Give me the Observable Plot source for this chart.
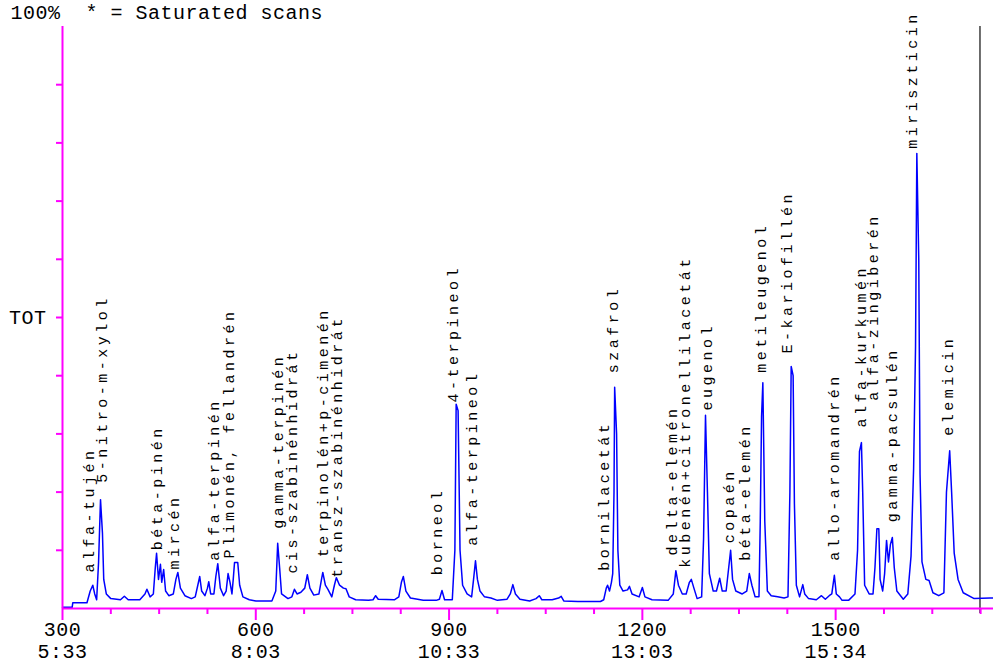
<!DOCTYPE html>
<html><head><meta charset="utf-8">
<script src="https://cdn.jsdelivr.net/npm/d3@7"></script>
<script src="https://cdn.jsdelivr.net/npm/@observablehq/plot@0.6"></script>
<style>body{margin:0;background:#fff}</style>
</head><body><div id="chart"></div>
<script>
const scans = [300,315,316,338,343,347,350,353,356,359,362,364,368,375,390,396,402,420,428,431,436,441,444,446,449,452,454,457,460,465,472,476,479,483,490,500,506,510,513,516,521,525,527,530,535,538,541,545,550,554,557,560,563,565,567,572,575,580,590,600,625,631,634,637,640,650,656,660,664,670,676,680,684,690,698,702,704,708,712,718,722,725,730,736,740,745,755,775,782,786,790,815,822,826,829,833,840,860,880,885,889,893,905,909,911,914,917,921,928,935,938,941,944,948,955,965,975,990,995,999,1003,1010,1025,1035,1040,1044,1060,1070,1074,1078,1100,1135,1140,1144,1146,1149,1152,1154,1156,1157,1160,1162,1165,1170,1177,1180,1184,1195,1200,1204,1215,1240,1248,1252,1256,1262,1268,1273,1276,1280,1285,1292,1295,1298,1301,1304,1310,1315,1320,1324,1330,1334,1337,1340,1345,1355,1362,1366,1370,1375,1381,1383,1385,1387,1390,1394,1400,1410,1420,1426,1429,1431,1434,1436,1439,1444,1449,1452,1458,1470,1478,1484,1490,1494,1498,1501,1506,1510,1520,1530,1534,1537,1540,1542,1545,1552,1558,1561,1564,1567,1569,1573,1576,1579,1582,1585,1588,1591,1595,1605,1612,1617,1621,1624,1626,1629,1631,1634,1640,1645,1651,1660,1668,1672,1677,1680,1684,1690,1698,1715,1740,1745];
const tic = [0.2,0.2,1.0,1.0,3.0,4.0,2.5,1.5,8,18.7,13,5,2.5,1.7,1.5,2.1,1.5,1.5,2.5,3.3,2.0,2.5,7,9.5,5,7.6,4.5,6.7,3,2.2,2.5,5.0,6.2,3.5,2.2,1.7,2.0,4.0,5.5,3,2.2,3.5,4.6,2.5,2.5,5.5,7.7,3.5,2.2,3,6.0,4.5,2.5,5,7.9,7.9,4,2,1.5,1.3,1.3,3,11.2,7,2.5,1.7,2.0,3.3,2.5,2.8,3.5,5.8,3.5,2.3,2.5,5,6.2,4,3.3,2.0,4,5.3,4,3.5,3.4,2,1.5,1.4,1.5,2.2,1.6,1.5,2,4.5,5.5,3,1.8,1.4,1.4,1.6,3.1,1.5,1.5,10,35.1,34,10,4,2.5,2,5,8.2,5,3,2,1.8,1.4,1.6,2.5,4.1,2.5,1.6,1.3,1.7,2.2,1.5,1.5,1.8,2.1,1.3,1.2,1.2,1.5,3.5,4.0,3,4.5,6.0,20,38.0,30,10,4,3,3.2,3.8,2.5,2,3.6,2,1.5,1.4,2.5,6.5,4,2.5,2.5,4.5,5.0,3.5,1.7,2,12,33.2,20,6,3,3,5.2,3,3,7,10.0,5,3,2.5,3,6.0,4,2,2,15,33,38.8,15,3,2.2,2,1.8,2,20,41.6,40,18,4,2,4.1,2.5,1.7,1.5,2.2,1.6,2.2,2.5,5.7,2.5,2,1.4,1.4,2.5,10,27,28.5,20,4,2.5,2.5,7,13.7,13.7,5,3,6,11.7,8,11,12.2,7,3,1.6,2.5,9,24,45,78.2,60,23,8,5,4.8,2.7,2.2,2.7,20,27.1,20,9.5,5,2.7,1.7,1.8,1.8];

const peakNames = ["alfa-tujén","5-nitro-m-xylol","béta-pinén","mircén","alfa-terpinén","Plimonén, fellandrén","gamma-terpinén","cis-szabinénhidrát","terpinolén+p-cimenén","transz-szabinénhidrát","borneol","4-terpineol","alfa-terpineol","bornilacetát","szafrol","delta-elemén","kubenén+citronellilacetát","eugenol","copaén","béta-elemén","metileugenol","E-kariofillén","allo-aromandrén","alfa-kurkumén","alfa-zingiberén","gamma-pacsulén","miriszticin","elemicin"];
const peakScans = [342,361,447,474,536,558,634,657,704,727,881,907,936,1140,1155,1247,1267,1300,1334,1360,1385,1425,1497,1539,1559,1588,1619,1674];
const peakLevels = [6.2,21.6,10.0,6.7,8.2,8.6,13.7,6.0,8.8,5.3,5.7,35.4,10.8,6.5,40.4,9.1,7.0,34.0,11.2,8.2,40.5,43.8,8.2,31.1,35.7,14.8,79.0,29.7];

const majorTicks = [300,600,900,1200,1500];
const majorTimes = ["5:33","8:03","10:33","13:03","15:34"];
const minorTicks = [375,450,525,675,750,825,975,1050,1125,1275,1350,1425,1575,1650,1725];
const yTicks = [10,20,30,40,50,60,70,80,90];
const yTickNames = {50: "TOT"};
const headerText = "100%  * = Saturated scans";
const markerScan = [1724];

const trace = scans.map((s, i) => ({scan: s, tic: tic[i]}));
const peaks = peakNames.map((n, i) => ({name: n, scan: peakScans[i], level: peakLevels[i]}));
const pink = "#ff00ff";

const chart = Plot.plot({
  width: 993, height: 666,
  marginLeft: 62, marginRight: 0, marginTop: 26, marginBottom: 58,
  x: {domain: [300, 1745], label: null},
  y: {domain: [0, 100], label: null},
  style: {fontFamily: "'Liberation Mono', 'DejaVu Sans Mono', monospace", fontSize: "20px", background: "white", color: "black", overflow: "visible"},
  marks: [
    Plot.ruleX(markerScan, {stroke: "#4a4a4a", strokeWidth: 1.6, insetBottom: -5}),
    Plot.lineY(trace, {x: "scan", y: "tic", stroke: "#0000ff", strokeWidth: 1.5}),
    Plot.ruleY([0], {stroke: pink, strokeWidth: 2}),
    Plot.ruleX([300], {stroke: pink, strokeWidth: 2}),
    Plot.axisX(minorTicks, {tickSize: 6, tickFormat: () => "", stroke: pink, strokeWidth: 2, label: null}),
    Plot.axisX(majorTicks, {tickSize: 12, tickPadding: 0, stroke: pink, strokeWidth: 2, fill: "black", label: null,
      tickFormat: d => `${d}\n${majorTimes[majorTicks.indexOf(d)]}`, lineHeight: 1.1, fontSize: 20}),
    Plot.axisY(yTicks, {tickSize: 6, tickPadding: 10, stroke: pink, strokeWidth: 2, fill: "black", label: null,
      tickFormat: d => yTickNames[d] ?? "", fontSize: 20}),
    Plot.text([headerText], {frameAnchor: "top-left", dx: -52, dy: -14, textAnchor: "start", lineAnchor: "middle", fill: "black", fontSize: 20}),
    Plot.text(peaks, {x: "scan", y: "level", text: "name", rotate: -90, textAnchor: "start", lineAnchor: "middle", fill: "black", fontSize: 15})
  ]
});
document.getElementById("chart").appendChild(chart);
chart.querySelectorAll("text").forEach(t => { t.style.letterSpacing = "0.5px"; });
chart.querySelectorAll('g[font-size="15"] text').forEach(t => { t.style.letterSpacing = "3.5px"; });
</script>
</body></html>
